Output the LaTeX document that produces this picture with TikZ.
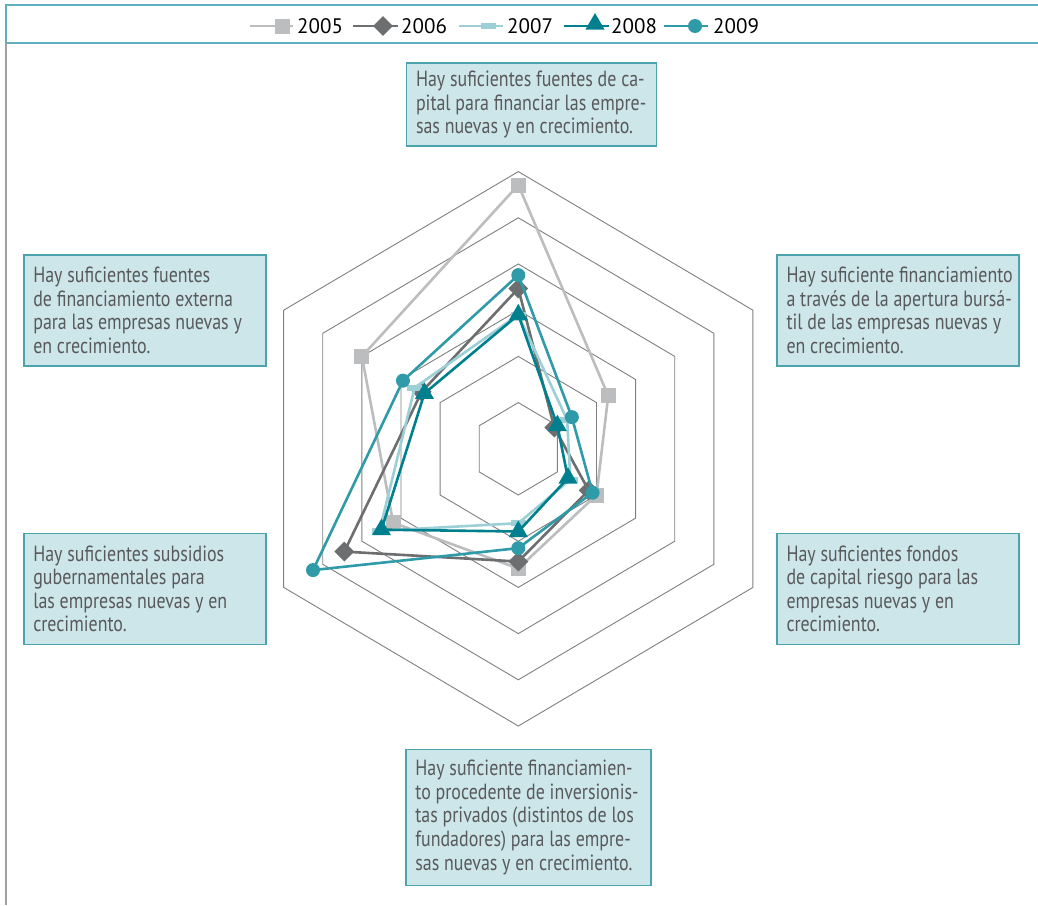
\documentclass[tikz,border=0pt]{standalone}
\usepackage{fontspec}
\setmainfont{PT Sans}
\newfontfamily\boxfont{PT Sans}[FakeStretch=0.815]
\usetikzlibrary{shapes.geometric}
\definecolor{c05}{RGB}{188,189,191}
\definecolor{c06}{RGB}{109,110,112}
\definecolor{c07}{RGB}{156,207,214}
\definecolor{c08}{RGB}{0,128,143}
\definecolor{c09}{RGB}{47,154,168}
\definecolor{frameteal}{RGB}{95,178,189}
\definecolor{framegrey}{RGB}{160,160,160}
\definecolor{boxfill}{RGB}{205,230,234}
\definecolor{boxline}{RGB}{74,163,173}
\definecolor{txt}{RGB}{88,89,91}
\definecolor{gridc}{RGB}{128,128,128}
\tikzset{
  gridline/.style={draw=gridc, line width=0.9pt},
  l05/.style={draw=c05, line width=2.6pt, line join=round},
  l06/.style={draw=c06, line width=2.6pt, line join=round},
  l07/.style={draw=c07, line width=2.6pt, line join=round},
  l08/.style={draw=c08, line width=2.6pt, line join=round},
  l09/.style={draw=c09, line width=2.6pt, line join=round},
  m05/.style={rectangle, fill=c05, minimum size=15pt, inner sep=0pt},
  m06/.style={diamond, fill=c06, minimum size=20pt, inner sep=0pt},
  m07/.style={rectangle, fill=c07, minimum width=15pt, minimum height=6pt, inner sep=0pt},
  m08/.style={regular polygon, regular polygon sides=3, fill=c08, minimum size=22pt, inner sep=0pt},
  m09/.style={circle, fill=c09, minimum size=14pt, inner sep=0pt},
  legtext/.style={font=\fontsize{21}{24}\selectfont, text=black, inner sep=0pt, anchor=west},
  labelbox/.style={draw=boxline, line width=1.4pt, fill=boxfill, inner sep=0pt},
  labeltext/.style={align=left, text=txt, inner sep=0pt, anchor=west,
     font=\boxfont\fontsize{22}{23.6}\selectfont},
}
\newcommand\radarseries[4]{%
  \foreach \v [count=\i] in {#4} {%
    \pgfmathsetmacro\ang{90-60*(\i-1)}%
    \coordinate (#3-\i) at (\ang:\v);
  }
  \draw[#1] (#3-1) -- (#3-2) -- (#3-3) -- (#3-4) -- (#3-5) -- (#3-6) -- cycle;
  \foreach \i in {1,...,6} {\node[#2] (#3m\i) at (#3-\i) {};}
}
\begin{document}
\begin{tikzpicture}[x=1pt,y=-1pt]
\useasboundingbox (0,0) rectangle (1038,905);
\fill[white] (0,0) rectangle (1038,905);
% frame
\draw[frameteal, line width=2pt] (5,5) -- (1038,5);
\draw[frameteal, line width=2pt] (5,43) -- (1038,43);
\draw[frameteal, line width=2pt] (6,4) -- (6,43);
\draw[framegrey, line width=2pt] (6,43) -- (6,905);
% legend
\draw[l05, line width=2pt] (250,26) -- (293,26);
\node[m05] (lg05) at (282,26) {};
\node[legtext] (lt05) at (297,26) {2005};
\draw[l06, line width=2pt] (353,26) -- (398,26);
\node[m06] (lg06) at (383,26) {};
\node[legtext] (lt06) at (401,26) {2006};
\draw[l07, line width=2pt] (459,26) -- (503,26);
\node[m07] (lg07) at (488.5,26) {};
\node[legtext] (lt07) at (507,26) {2007};
\draw[l08, line width=2pt] (564,26) -- (609,26);
\node[m08] (lg08) at (595,24) {};
\node[legtext] (lt08) at (611,26) {2008};
\draw[l09, line width=2pt] (664,26) -- (708,26);
\node[m09] (lg09) at (695,26) {};
\node[legtext] (lt09) at (713,26) {2009};
% radar
\coordinate (c) at (518.3,448.8);
\begin{scope}[shift={(c)}, x=45.15pt, y=46.2pt]
  \foreach \k in {1,...,6}
    \draw[gridline] (90:\k) -- (30:\k) -- (-30:\k) -- (-90:\k) -- (210:\k) -- (150:\k) -- cycle;
  \radarseries{l05}{m05}{a}{5.71,2.3,2.0,2.59,3.2,4.0}
  \radarseries{l06}{m06}{b}{3.47,0.92,1.8,2.44,4.45,2.47}
  \radarseries{l07}{m07}{d}{2.9,1.25,1.33,1.61,3.55,2.65}
  \radarseries{l08}{m08}{e}{2.9,1.0,1.27,1.79,3.5,2.4}
  \radarseries{l09}{m09}{f}{3.76,1.37,1.9,2.15,5.25,2.95}
\end{scope}
% label boxes
\node[labelbox, minimum width=250pt, minimum height=83pt] (b1) at (531.5,104.5) {};
\node[labeltext] (t1) at ([xshift=10pt]b1.west)
  {Hay suficientes fuentes de ca-\\pital para financiar las empre-\\sas nuevas y en crecimiento.};
\node[labelbox, minimum width=242pt, minimum height=111pt] (b2) at (898,310.5) {};
\node[labeltext] (t2) at ([xshift=10pt]b2.west)
  {Hay suficiente financiamiento\\a través de la apertura bursá-\\til de las empresas nuevas y\\en crecimiento.};
\node[labelbox, minimum width=242pt, minimum height=111pt] (b3) at (898,588.8) {};
\node[labeltext] (t3) at ([xshift=10pt]b3.west)
  {Hay suficientes fondos\\de capital riesgo para las\\empresas nuevas y en\\crecimiento.};
\node[labelbox, minimum width=245pt, minimum height=136pt] (b4) at (528.4,817.3) {};
\node[labeltext] (t4) at ([xshift=10pt]b4.west)
  {Hay suficiente financiamien-\\to procedente de inversionis-\\tas privados (distintos de los\\fundadores) para las empre-\\sas nuevas y en crecimiento.};
\node[labelbox, minimum width=242pt, minimum height=111pt] (b5) at (144.8,588.8) {};
\node[labeltext] (t5) at ([xshift=10pt]b5.west)
  {Hay suficientes subsidios\\gubernamentales para\\las empresas nuevas y en\\crecimiento.};
\node[labelbox, minimum width=242pt, minimum height=111pt] (b6) at (144.8,310.5) {};
\node[labeltext] (t6) at ([xshift=10pt]b6.west)
  {Hay suficientes fuentes\\de financiamiento externa\\para las empresas nuevas y\\en crecimiento.};
\end{tikzpicture}
\end{document}
